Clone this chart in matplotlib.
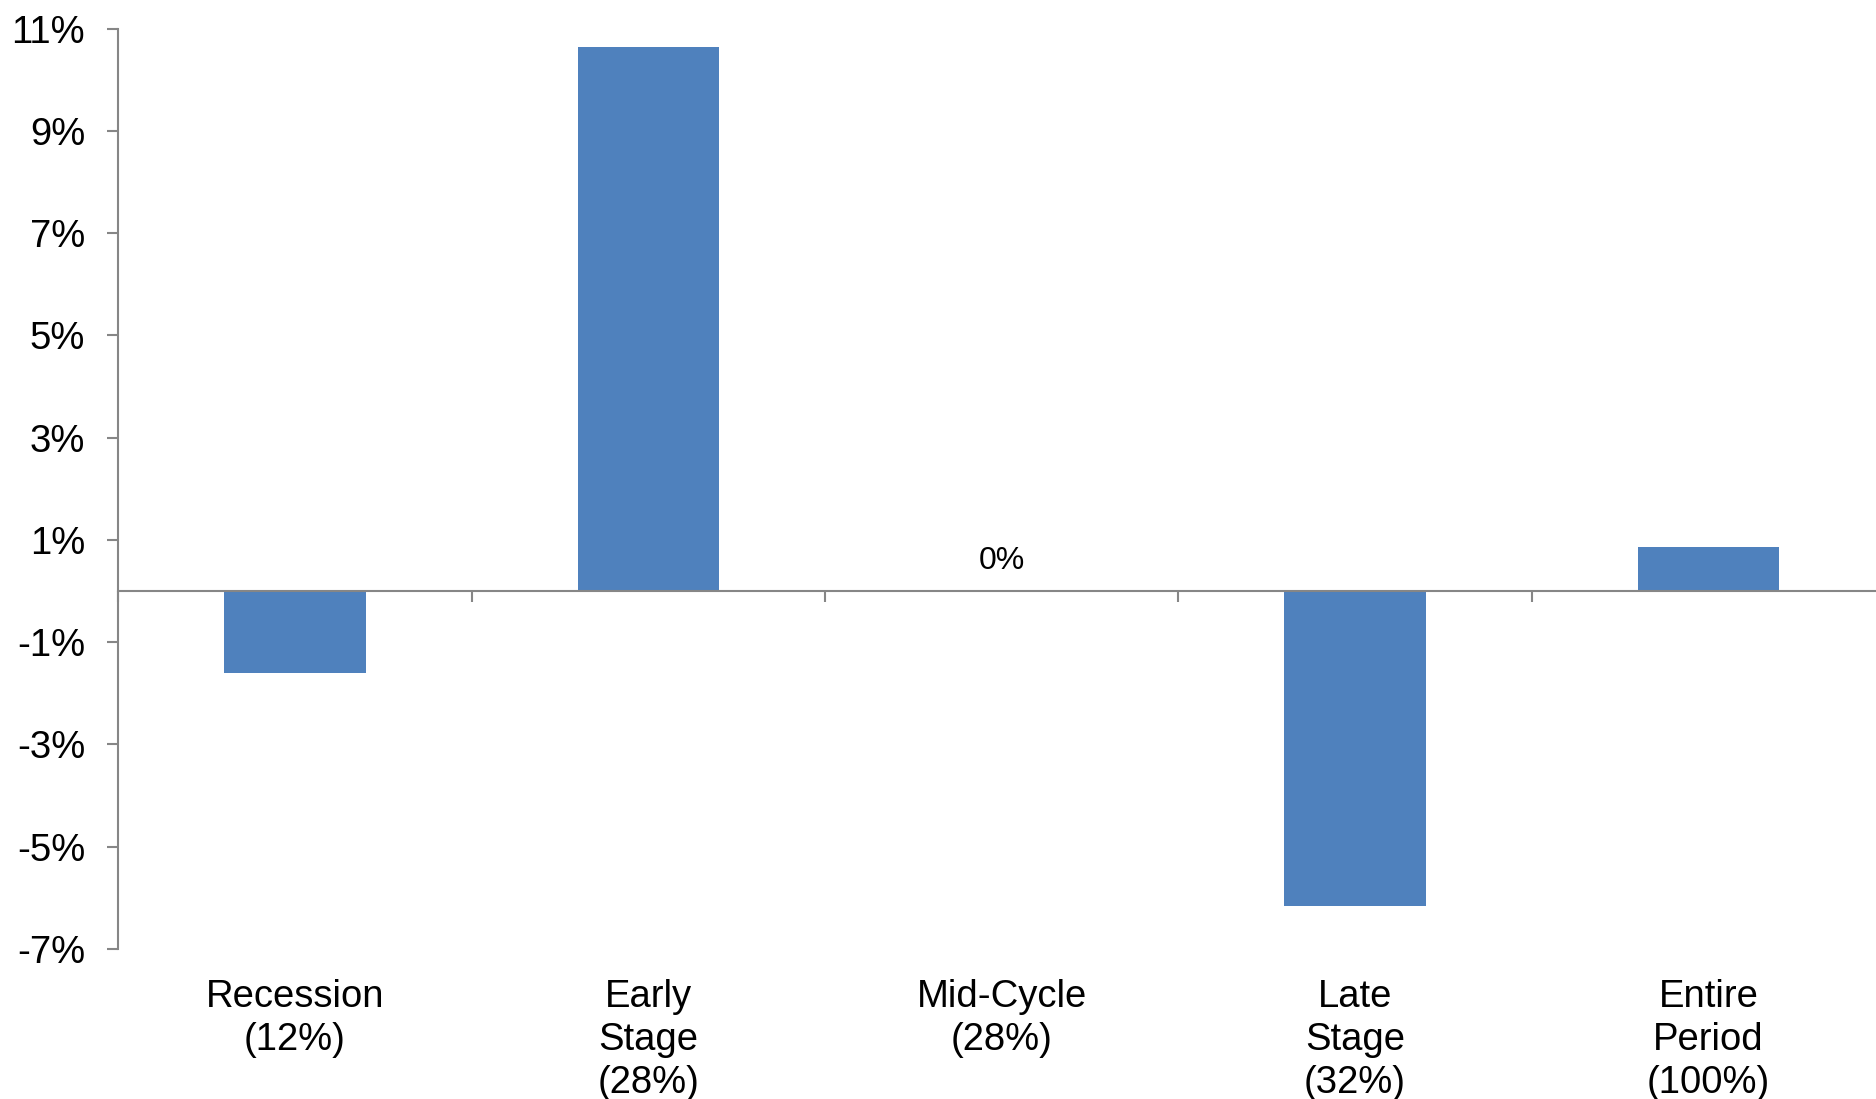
import matplotlib
matplotlib.use("Agg")
import matplotlib.pyplot as plt
import numpy as np

plt.rcParams['font.family'] = ['Liberation Sans', 'DejaVu Sans']

# average relative return by cycle phase (%)
phases = ["Recession\n(12%)", "Early\nStage\n(28%)", "Mid-Cycle\n(28%)",
          "Late\nStage\n(32%)", "Entire\nPeriod\n(100%)"]
returns = [-1.6, 10.65, 0.0, -6.15, 0.86]
y_ticks = [11, 9, 7, 5, 3, 1, -1, -3, -5, -7]

bar_color = "#4F81BD"
axis_gray = "#868686"

fig = plt.figure(figsize=(18.76, 10.99), dpi=100)
ax = fig.add_axes([0.0631, 0.1365, 0.9417, 0.8374])

x = np.arange(len(phases))
ax.bar(x, returns, width=0.4, color=bar_color, zorder=2)

# label only the zero bar
for xi, v in zip(x, returns):
    if v == 0:
        ax.annotate(f"{v:.0f}%", xy=(xi, 0), xytext=(0, 11), textcoords="offset points",
                    ha="center", va="bottom", fontsize=23)

ax.set_xlim(-0.5, len(phases) - 0.5)
ax.set_ylim(-7, 11)
ax.set_yticks(y_ticks)
ax.set_yticklabels([f"{t}%" for t in y_ticks], fontsize=27.5)
ax.tick_params(axis="y", direction="out", length=8, width=1.5, color=axis_gray, pad=16)

# category axis crossing at zero, tick marks between categories
for s in ["top", "right"]:
    ax.spines[s].set_visible(False)
ax.spines["left"].set_color(axis_gray)
ax.spines["left"].set_linewidth(1.5)
ax.spines["bottom"].set_position(("data", 0))
ax.spines["bottom"].set_color(axis_gray)
ax.spines["bottom"].set_linewidth(1.5)
ax.spines["bottom"].set_zorder(3)
ax.set_xticks(np.arange(len(phases) + 1) - 0.5)
ax.set_xticklabels([])
ax.tick_params(axis="x", direction="out", length=8, width=1.5, color=axis_gray)

for xi, name in zip(x, phases):
    ax.annotate(name, xy=(xi, 0), xycoords=("data", "axes fraction"),
                xytext=(0, -21.5), textcoords="offset points",
                ha="center", va="top", fontsize=27.5, linespacing=1.25)

fig.savefig("out.png", dpi=100)
